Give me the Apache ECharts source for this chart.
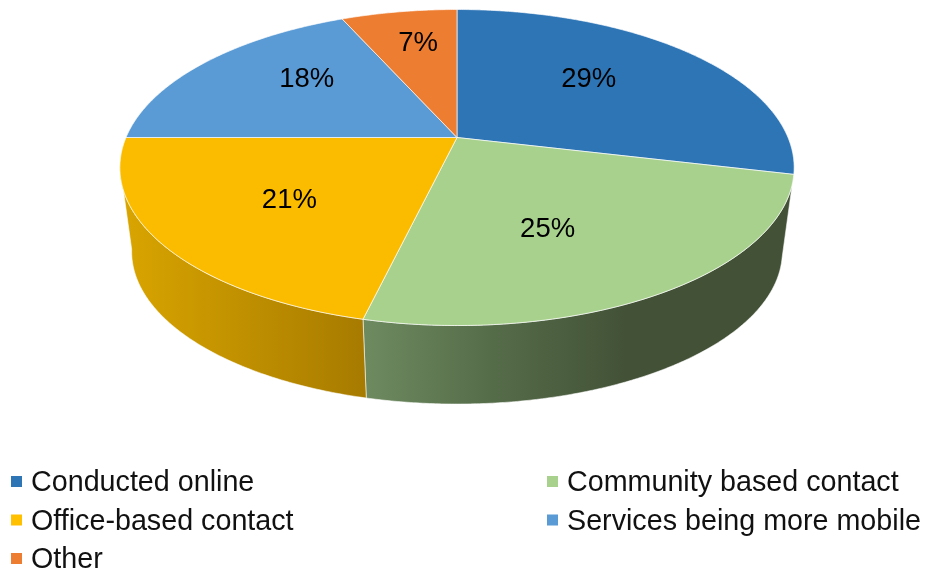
<!DOCTYPE html>
<html>
<head>
<meta charset="utf-8">
<style>html,body{margin:0;padding:0;background:#fff}#chart{width:928px;height:574px}</style>
<script src="https://cdn.jsdelivr.net/npm/echarts@6/dist/echarts.min.js"></script>
</head>
<body>
<div id="chart"></div>
<script>
// Share of contact by channel, in percent, clockwise from twelve o'clock.
const categories = ['Conducted online', 'Community based contact', 'Office-based contact', 'Services being more mobile', 'Other'];
const shares = [29, 25, 21, 18, 7];
const topColors = ['#2E75B6', '#A9D18E', '#FBBC00', '#5B9BD5', '#ED7D31'];
const legendColors = ['#2E75B6', '#A9D18E', '#FFC000', '#5B9BD5', '#ED7D31'];
// Shaded side wall: [left stop, middle stop, right stop] for the slices that face the viewer.
const wallStops = [
  ['#1C4A74', '#1C4A74', '#1C4A74'],
  ['#6E8B60', '#556C49', '#435237'],
  ['#D9A500', '#C09000', '#A77B00'],
  ['#3A6A94', '#3A6A94', '#3A6A94'],
  ['#A0541F', '#A0541F', '#A0541F']
];
const wallGradientSpan = [[0, 928], [362, 625], [122, 363], [0, 928], [0, 928]];
// Label shift from the default placement, per slice.
const labelNudge = [[-9, 3], [0, 6], [-27, 2], [0, -4], [0, 4]];

// Perspective disc: a unit circle tilted away from the viewer.
const view = {
  cx: 457, cy: 137.5, a: 331, b: 152.3, k: 0.19,
  lowerScale: 0.965, lowerCy: 222.6,
  lensWarp: 1.2,
  labelRx: 178, labelRy: 100
};
const DEG = Math.PI / 180;

// Small angular correction of the lens, zero on the four axes.
function warped(deg) {
  return deg - view.lensWarp * Math.sin(4 * deg * DEG);
}
function topPoint(deg) {
  const t = warped(deg) * DEG;
  const u = Math.sin(t), v = Math.cos(t);
  const d = 1 + view.k * v;
  return [view.cx + view.a * u / d, view.cy - view.b * v / d];
}
function lowerPoint(deg) {
  const t = warped(deg) * DEG;
  const u = Math.sin(t), v = Math.cos(t);
  const d = 1 + view.k * v;
  return [view.cx + view.lowerScale * view.a * u / d, view.lowerCy - view.lowerScale * view.b * v / d];
}
function arc(from, to, fn) {
  const pts = [];
  const n = Math.max(2, Math.ceil(Math.abs(to - from) * 2));
  for (let i = 0; i <= n; i++) pts.push(fn(from + (to - from) * i / n));
  return pts;
}

// The side wall is visible only between the disc's silhouette tangents.
const wallTopRange = [108, 259];
const wallLowerRange = [101, 259];

function renderSlice(params, api) {
  const idx = params.seriesIndex;
  const start = api.value(0) * 3.6;
  const end = (api.value(0) + api.value(1)) * 3.6;
  const mid = (start + end) / 2;
  const children = [];

  const topFrom = Math.max(start, wallTopRange[0]), topTo = Math.min(end, wallTopRange[1]);
  const lowFrom = Math.max(start, wallLowerRange[0]), lowTo = Math.min(end, wallLowerRange[1]);
  if (topTo > topFrom && lowTo > lowFrom) {
    const upper = arc(topFrom, topTo, topPoint);
    const lower = arc(lowFrom, lowTo, lowerPoint).reverse();
    const span = wallGradientSpan[idx], stops = wallStops[idx];
    children.push({
      type: 'polygon',
      z2: 1,
      shape: { points: upper.concat(lower) },
      style: {
        fill: new echarts.graphic.LinearGradient(span[0], 0, span[1], 0, [
          { offset: 0, color: stops[0] },
          { offset: 0.5, color: stops[1] },
          { offset: 1, color: stops[2] }
        ], true),
        stroke: 'rgba(255,255,255,0.55)',
        lineWidth: 1
      }
    });
  }

  children.push({
    type: 'polygon',
    z2: 2,
    shape: { points: [[view.cx, view.cy]].concat(arc(start, end, topPoint)) },
    style: { fill: topColors[idx], stroke: 'rgba(255,255,255,0.65)', lineWidth: 1 }
  });

  const nudge = labelNudge[idx];
  children.push({
    type: 'text',
    z2: 3,
    style: {
      text: api.value(1) + '%',
      x: view.cx + view.labelRx * Math.sin(mid * DEG) + nudge[0],
      y: view.cy - view.labelRy * Math.cos(mid * DEG) + nudge[1],
      align: 'center',
      verticalAlign: 'middle',
      fill: '#000',
      font: '27.5px "Liberation Sans", Arial, sans-serif'
    }
  });
  return { type: 'group', children };
}

let running = 0;
const series = categories.map((name, i) => {
  const row = [running, shares[i]];
  running += shares[i];
  return {
    type: 'custom',
    name,
    coordinateSystem: 'none',
    silent: true,
    animation: false,
    itemStyle: { color: legendColors[i] },
    renderItem: renderSlice,
    data: [row]
  };
});

const legendBase = {
  orient: 'vertical',
  // An 11px square sitting at the top of a 15px box, so it rides a little above the text centre.
  icon: 'path://M0 0H11V11H0Z M0 15H0.001V15.001H0Z',
  itemWidth: 11,
  itemHeight: 15,
  itemGap: 9.5,
  selectedMode: false,
  padding: 0,
  height: 125,
  textStyle: { fontFamily: '"Liberation Sans", Arial, sans-serif', fontSize: 28.7, color: '#111', padding: [0, 0, 0, 4] }
};

const chart = echarts.init(document.getElementById('chart'), null, { renderer: 'canvas' });
chart.setOption({
  animation: false,
  backgroundColor: '#fff',
  legend: [
    Object.assign({}, legendBase, { left: 11, top: 469, data: [categories[0], categories[2], categories[4]] }),
    Object.assign({}, legendBase, { left: 547, top: 469, data: [categories[1], categories[3]] })
  ],
  series
});
</script>
</body>
</html>
